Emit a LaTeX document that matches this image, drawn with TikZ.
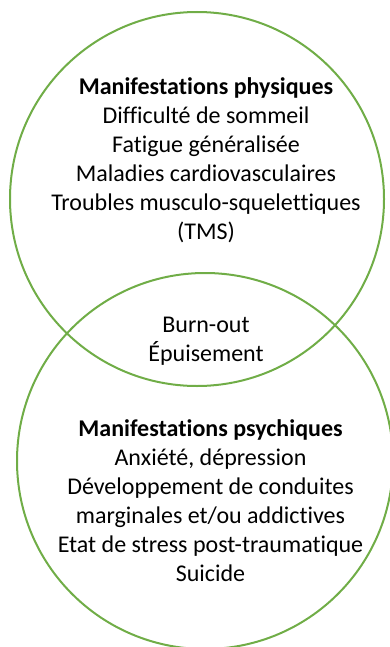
\documentclass[tikz,border=0pt]{standalone}
\usepackage{fontspec}
\setmainfont[Ligatures={NoCommon,NoRequired}]{Carlito}
\definecolor{ringgreen}{HTML}{70AD47}
\begin{document}
\begin{tikzpicture}[x=1pt,y=-1pt,
  ring/.style={circle,draw=ringgreen,line width=2pt,inner sep=0pt},
  txt/.style={align=center,font=\fontsize{24}{29}\selectfont,inner sep=0pt,text=black}]
\useasboundingbox (0,0) rectangle (390,647);
\node[ring,minimum size=374pt] (phys) at (197,199) {};
\node[ring,minimum size=376pt] (psy) at (205,461) {};
\node[txt] (physt) at (206,160) {\textbf{Manifestations physiques}\\Difficulté de sommeil\\Fatigue généralisée\\Maladies cardiovasculaires\\Troubles musculo-squelettiques\\(TMS)};
\node[txt] (burn) at (206,341) {Burn-out\\Épuisement};
\node[txt] (psyt) at (210.5,501) {\textbf{Manifestations psychiques}\\Anxiété, dépression\\Développement de conduites\\marginales et/ou addictives\\Etat de stress post-traumatique\\Suicide};
\end{tikzpicture}
\end{document}
